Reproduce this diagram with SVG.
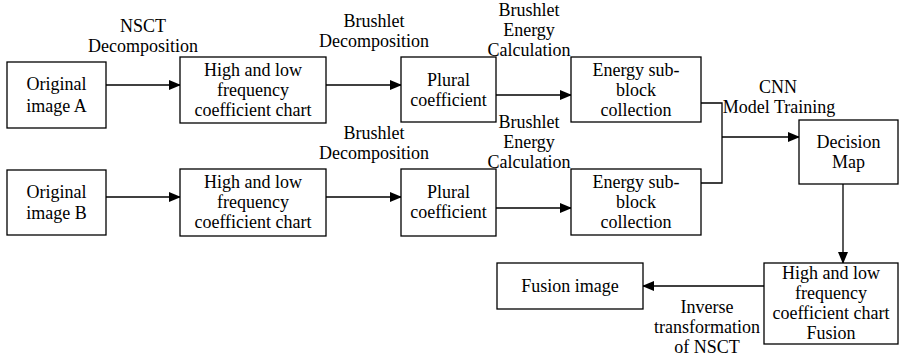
<svg xmlns="http://www.w3.org/2000/svg" width="910" height="359" viewBox="0 0 910 359">
<defs>
<marker id="arr" markerWidth="12" markerHeight="10" refX="11" refY="5" orient="auto" markerUnits="userSpaceOnUse">
<path d="M0,0 L12,5 L0,10 Z" fill="#000"/>
</marker>
<style>
.box{fill:#fff;stroke:#000;stroke-width:1.3}
.t{font-family:'Liberation Serif','Times New Roman',Times,'DejaVu Serif',serif;font-size:18px;fill:#000;text-anchor:middle}
.c{fill:none;stroke:#000;stroke-width:1.3}
</style>
</defs>
<rect width="910" height="359" fill="#fff"/>
<g id="connectors">
<line class="c" x1="106" y1="85" x2="180" y2="85" marker-end="url(#arr)"/>
<line class="c" x1="326" y1="85" x2="401" y2="85" marker-end="url(#arr)"/>
<line class="c" x1="496" y1="95" x2="571" y2="95" marker-end="url(#arr)"/>
<line class="c" x1="106" y1="197" x2="180" y2="197" marker-end="url(#arr)"/>
<line class="c" x1="326" y1="197" x2="401" y2="197" marker-end="url(#arr)"/>
<line class="c" x1="496" y1="208" x2="571" y2="208" marker-end="url(#arr)"/>
<polyline class="c" points="701,103 722,103 722,183 701,183"/>
<line class="c" x1="722" y1="137" x2="799" y2="137" marker-end="url(#arr)"/>
<line class="c" x1="843" y1="184" x2="843" y2="263" marker-end="url(#arr)"/>
<line class="c" x1="764" y1="286" x2="643" y2="286" marker-end="url(#arr)"/>
<text class="t" x="143" y="32" font-family="Liberation Serif, serif">NSCT</text>
<text class="t" x="143" y="52">Decomposition</text>
<text class="t" x="374" y="27">Brushlet</text>
<text class="t" x="374" y="47">Decomposition</text>
<text class="t" x="374" y="139">Brushlet</text>
<text class="t" x="374" y="159">Decomposition</text>
<text class="t" x="529" y="16">Brushlet</text>
<text class="t" x="529" y="36">Energy</text>
<text class="t" x="529" y="56">Calculation</text>
<text class="t" x="529" y="128">Brushlet</text>
<text class="t" x="529" y="148">Energy</text>
<text class="t" x="529" y="168">Calculation</text>
<text class="t" x="778" y="93">CNN</text>
<text class="t" x="779" y="113">Model Training</text>
<text class="t" x="707" y="313">Inverse</text>
<text class="t" x="707" y="333">transformation</text>
<text class="t" x="707" y="353">of NSCT</text>
</g>
<g id="origA">
<rect class="box" x="7" y="62" width="99" height="66"/>
<text class="t" x="56.5" y="90">Original</text>
<text class="t" x="56.5" y="112">image A</text>
</g>
<g id="hlA">
<rect class="box" x="180" y="57" width="146" height="66"/>
<text class="t" x="253" y="76">High and low</text>
<text class="t" x="253" y="96">frequency</text>
<text class="t" x="253" y="116">coefficient chart</text>
</g>
<g id="pluralA">
<rect class="box" x="401" y="57" width="95" height="65"/>
<text class="t" x="448.5" y="86">Plural</text>
<text class="t" x="448.5" y="106">coefficient</text>
</g>
<g id="energyA">
<rect class="box" x="571" y="57" width="130" height="65"/>
<text class="t" x="636" y="76">Energy sub-</text>
<text class="t" x="636" y="96">block</text>
<text class="t" x="636" y="116">collection</text>
</g>
<g id="origB">
<rect class="box" x="7" y="170" width="99" height="65"/>
<text class="t" x="56.5" y="198">Original</text>
<text class="t" x="56.5" y="219">image B</text>
</g>
<g id="hlB">
<rect class="box" x="180" y="169" width="146" height="67"/>
<text class="t" x="253" y="188">High and low</text>
<text class="t" x="253" y="208">frequency</text>
<text class="t" x="253" y="228">coefficient chart</text>
</g>
<g id="pluralB">
<rect class="box" x="401" y="169" width="95" height="67"/>
<text class="t" x="448.5" y="198">Plural</text>
<text class="t" x="448.5" y="218">coefficient</text>
</g>
<g id="energyB">
<rect class="box" x="571" y="169" width="130" height="66"/>
<text class="t" x="636" y="188">Energy sub-</text>
<text class="t" x="636" y="208">block</text>
<text class="t" x="636" y="228">collection</text>
</g>
<g id="decision">
<rect class="box" x="799" y="120" width="99" height="64"/>
<text class="t" x="848.5" y="148">Decision</text>
<text class="t" x="848.5" y="168">Map</text>
</g>
<g id="fusionHL">
<rect class="box" x="764" y="263" width="134" height="81"/>
<text class="t" x="831" y="279">High and low</text>
<text class="t" x="831" y="299">frequency</text>
<text class="t" x="831" y="319">coefficient chart</text>
<text class="t" x="831" y="339">Fusion</text>
</g>
<g id="fusionImg">
<rect class="box" x="497" y="263" width="146" height="46"/>
<text class="t" x="570" y="292">Fusion image</text>
</g>
</svg>
